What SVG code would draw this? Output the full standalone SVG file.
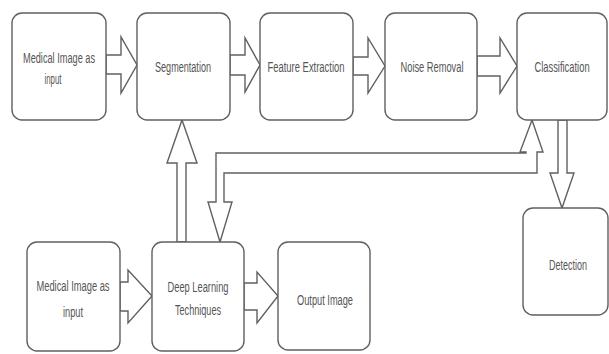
<svg xmlns="http://www.w3.org/2000/svg" width="609" height="354" viewBox="0 0 609 354">
<style>
.box{fill:#fff;stroke:#606060;stroke-width:1.4}
.arr{fill:#fff;stroke:#606060;stroke-width:1.4;stroke-linejoin:miter}
text{font-family:"Liberation Sans",Arial,sans-serif;font-size:14px;fill:#555;text-anchor:middle}
</style>
<rect width="609" height="354" fill="#fff"/>
<g id="connectors">
<polygon class="arr" points="106,55 121,55 121,37 137,65 121,93 121,74 106,74"/>
<polygon class="arr" points="230,55 245,55 245,38 260,65 245,92 245,75 230,75"/>
<polygon class="arr" points="353,57 368,57 368,38 385,66 368,93 368,75 353,75"/>
<polygon class="arr" points="477,56 500,56 500,38 517,66 500,93 500,76 477,76"/>
<polygon class="arr" points="120,282 128,282 128,270 152,296 128,323 128,311 120,311"/>
<polygon class="arr" points="244,283 257,283 257,272 278,296 257,323 257,310 244,310"/>
<polygon class="arr" points="177,242 177,163 167,163 182,120 197,163 186,163 186,242"/>
<polygon class="arr" points="532,120 543,152 537,152 537,173 224,173 224,202 232,202 220,242 208,202 216,202 216,153 526,153 526,152 520,152"/>
<polygon class="arr" points="558,120 567,120 567,173 574,173 562,208 550,173 558,173"/>
</g>
<g id="n1"><rect class="box" x="12" y="13" width="94" height="107" rx="10"/><text x="59" y="63" textLength="72" lengthAdjust="spacingAndGlyphs">Medical Image as</text><text x="53" y="84" textLength="17" lengthAdjust="spacingAndGlyphs">input</text></g>
<g id="n2"><rect class="box" x="137" y="13" width="93" height="107" rx="10"/><text x="183" y="72" textLength="56" lengthAdjust="spacingAndGlyphs">Segmentation</text></g>
<g id="n3"><rect class="box" x="260" y="13" width="93" height="107" rx="10"/><text x="306" y="72" textLength="77" lengthAdjust="spacingAndGlyphs">Feature Extraction</text></g>
<g id="n4"><rect class="box" x="385" y="13" width="92" height="107" rx="10"/><text x="432" y="72" textLength="63" lengthAdjust="spacingAndGlyphs">Noise Removal</text></g>
<g id="n5"><rect class="box" x="517" y="13" width="90" height="107" rx="10"/><text transform="translate(562,72) scale(0.67,1)" x="0" y="0">Classification</text></g>
<g id="n6"><rect class="box" x="523" y="208" width="85" height="107" rx="10"/><text x="568" y="270" textLength="38" lengthAdjust="spacingAndGlyphs">Detection</text></g>
<g id="n7"><rect class="box" x="27" y="242" width="93" height="109" rx="10"/><text x="73" y="291" textLength="73" lengthAdjust="spacingAndGlyphs">Medical Image as</text><text x="73" y="317" textLength="20" lengthAdjust="spacingAndGlyphs">input</text></g>
<g id="n8"><rect class="box" x="152" y="242" width="92" height="109" rx="10"/><text x="198" y="292" textLength="61" lengthAdjust="spacingAndGlyphs">Deep Learning</text><text x="198" y="315" textLength="46" lengthAdjust="spacingAndGlyphs">Techniques</text></g>
<g id="n9"><rect class="box" x="278" y="242" width="92" height="108" rx="10"/><text x="325" y="305" textLength="56" lengthAdjust="spacingAndGlyphs">Output Image</text></g>
</svg>
